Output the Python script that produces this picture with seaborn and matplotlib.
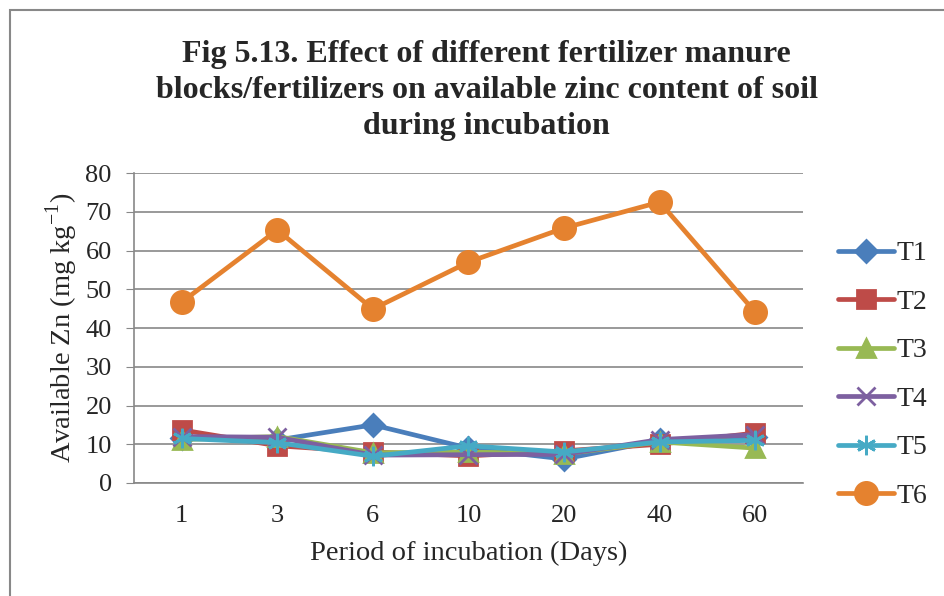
import pandas as pd
import matplotlib.pyplot as plt
import seaborn as sns
from matplotlib.patches import Rectangle

days = ["1", "3", "6", "10", "20", "40", "60"]
t1 = [11.6, 11.1, 15.0, 9.0, 6.2, 11.0, 12.0]
t2 = [13.7, 9.6, 8.0, 7.0, 8.3, 10.0, 12.9]
t3 = [11.2, 12.0, 7.8, 8.0, 7.5, 10.6, 9.0]
t4 = [12.0, 11.8, 7.2, 7.3, 7.4, 11.2, 12.5]
t5 = [11.5, 10.4, 6.9, 9.6, 8.0, 10.6, 11.0]
t6 = [46.7, 65.3, 44.9, 57.0, 65.8, 72.5, 44.1]

series = {"T1": t1, "T2": t2, "T3": t3, "T4": t4, "T5": t5, "T6": t6}
colors = {"T1": "#4A7EBB", "T2": "#BE4B48", "T3": "#98B954",
          "T4": "#7D60A0", "T5": "#46AAC5", "T6": "#E5822F"}
markers = {"T1": "D", "T2": "s", "T3": "^", "T4": "x", "T5": (6, 2, 0), "T6": "o"}
msizes = {"T1": 11, "T2": 13, "T3": 13, "T4": 13, "T5": 14, "T6": 16}

sns.set_style("white")
plt.rcParams["font.family"] = ["Liberation Serif", "DejaVu Serif"]
plt.rcParams["mathtext.fontset"] = "custom"
plt.rcParams["mathtext.rm"] = "Liberation Serif"

fig = plt.figure(figsize=(9.45, 5.96), dpi=100)
ax = fig.add_axes([0.1418, 0.1896, 0.7079, 0.5201])

pos = list(range(len(days)))
for name, vals in series.items():
    df = pd.DataFrame({"x": pos, "y": vals})
    sns.lineplot(data=df, x="x", y="y", ax=ax, color=colors[name], lw=3.4,
                 marker=markers[name], markersize=msizes[name],
                 markeredgecolor=colors[name], markeredgewidth=2, label=name,
                 legend=False)

ax.set_xlim(-0.5, 6.5)
ax.set_ylim(0, 80)
ax.set_yticks(range(0, 81, 10))
ax.set_xticks(pos)
ax.set_xticklabels(days)
ax.tick_params(axis="x", length=0, pad=16, labelsize=19)
ax.tick_params(axis="y", length=6, color="#888888", direction="out", left=True, pad=10, labelsize=19)
ax.grid(axis="y", color="#888888", lw=1.2)
ax.set_axisbelow(True)
for s in ["top", "right"]:
    ax.spines[s].set_visible(False)
for s in ["left", "bottom"]:
    ax.spines[s].set_color("#888888")
    ax.spines[s].set_linewidth(1.2)

ax.set_xlabel("Period of incubation (Days)", fontsize=20.5, labelpad=10)
ax.set_ylabel("Available Zn (mg kg$^{\\mathrm{-1}}$)", fontsize=20.5, labelpad=4)

fig.text(0.515, 0.848, "Fig 5.13. Effect of different fertilizer manure\n"
         "blocks/fertilizers on available zinc content of soil\nduring incubation",
         ha="center", va="center", fontsize=23, fontweight="bold", linespacing=1.3)

handles, labels = ax.get_legend_handles_labels()
fig.legend(handles, labels, loc="upper left", bbox_to_anchor=(0.887, 0.596),
           frameon=False, fontsize=20, labelspacing=0.83, handlelength=2.0,
           handletextpad=0.1, borderaxespad=0, borderpad=0)

fig.patches.append(Rectangle((10 / 945, -0.1), 1.2, 1.1 - 10 / 596, transform=fig.transFigure,
                             fill=False, edgecolor="#888888", lw=1.5))

fig.savefig("out.png", dpi=100)
